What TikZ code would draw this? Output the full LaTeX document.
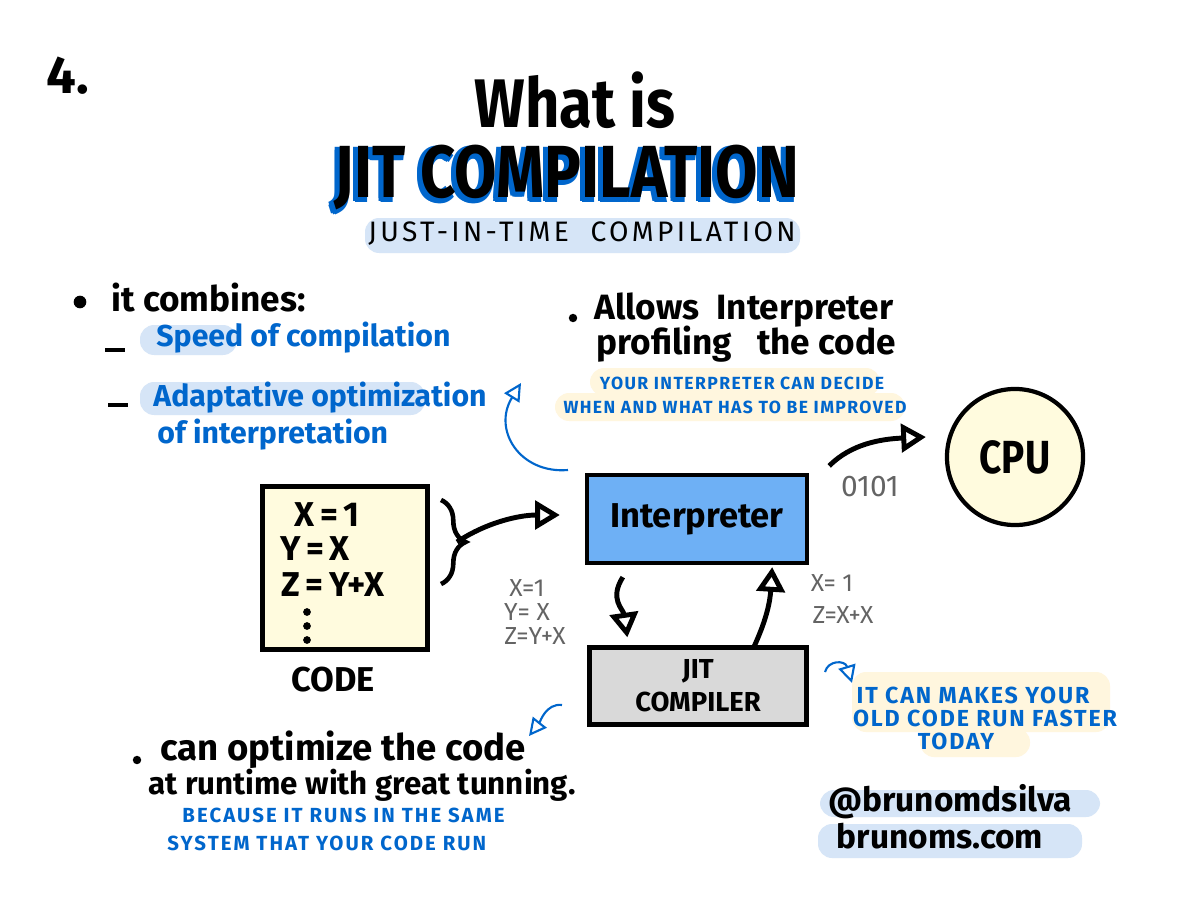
\documentclass[tikz,border=0pt]{standalone}
\usepackage{fontspec}
\usepackage{graphicx}
\setmainfont{Fira Sans}
\usetikzlibrary{arrows.meta,decorations.pathreplacing,calc,positioning}
\definecolor{jitblue}{RGB}{0,102,204}
\definecolor{interpblue}{RGB}{110,176,245}
\definecolor{codeyellow}{RGB}{255,251,222}
\definecolor{hlblue}{RGB}{214,229,247}
\definecolor{hlyellow}{RGB}{255,246,222}
\definecolor{jitgray}{RGB}{217,217,217}
\definecolor{notegray}{RGB}{100,100,100}

\tikzset{
  box/.style={draw=black, line width=1.2pt, inner sep=0pt},
  flow/.style={line width=1.4pt, -{Triangle[open,length=7pt,width=8pt]}},
  hint/.style={jitblue, line width=0.6pt, -{Triangle[open,length=5pt,width=5pt]}},
  hand/.style={font=\fontsize{10}{12}\selectfont\bfseries},
  bluehand/.style={text=jitblue, font=\fontsize{8.6}{10}\selectfont\bfseries},
  capsnote/.style={text=jitblue, font=\fontsize{5}{6}\selectfont\bfseries\addfontfeature{LetterSpace=8}},
  graynote/.style={text=notegray, font=\fontsize{7}{8}\selectfont},
  boxtext/.style={font=\fontsize{9.8}{11}\selectfont\bfseries},
  titletext/.style={font=\fontsize{17.5}{20}\selectfont\bfseries, inner sep=0pt},
  highlight/.style={rounded corners=4pt}
}

\begin{document}
\begin{tikzpicture}[x=0.01cm,y=-0.01cm]
    \useasboundingbox (0,0) rectangle (1200,900);
    \fill[white] (0,0) rectangle (1200,900);

    % Heading
    \node[font=\fontsize{15}{18}\selectfont\bfseries] (pagenum) at (68,76) {4.};
    \node[font=\fontsize{17}{20}\selectfont\bfseries, inner sep=0pt] (whatis) at (575,100) {\scalebox{1}[1.15]{What is}};
    \foreach \dx/\dy [count=\i] in {-4/3,-3/5,-5/1,-1/5,-2/2,-5/4}
        \node[titletext, text=jitblue] (shadow\i) at (567+\dx,178+\dy) {\scalebox{1}[1.2]{JIT COMPILATION}};
    \node[titletext] (title) at (567,178) {\scalebox{1}[1.2]{JIT COMPILATION}};
    \fill[hlblue, highlight] (365,218) rectangle (800,253);
    \node[font=\fontsize{8}{10}\selectfont\addfontfeature{LetterSpace=12}] (subtitle) at (582,234) {JUST-IN-TIME\ \ COMPILATION};

    % It combines
    \fill (80,302) circle (1.8pt);
    \node[hand, anchor=west] (combines) at (99,298) {it combines:};
    \draw[line width=1.4pt] (105,350) -- (125,350);
    \fill[hlblue, highlight] (140,325) rectangle (237,355);
    \node[bluehand, anchor=west] (speed) at (144,338) {Speed of compilation};
    \draw[line width=1.4pt] (108,405) -- (128,405);
    \fill[hlblue, highlight] (140,382) rectangle (425,415);
    \node[bluehand, anchor=west] (adapt) at (141,398) {Adaptative optimization};
    \node[bluehand, anchor=west] (interpretation) at (145,435) {of interpretation};

    % Profiling
    \fill (573,318) circle (1.2pt);
    \node[hand, anchor=west] (allows) at (582,310) {Allows \ Interpreter};
    \node[hand, anchor=west] (profiling) at (584,344) {profiling \ \ the code};
    \fill[hlyellow, highlight] (590,368) rectangle (880,396);
    \fill[hlyellow, highlight] (555,393) rectangle (905,421);
    \node[capsnote] (decide) at (742,383) {YOUR INTERPRETER CAN DECIDE};
    \node[capsnote] (improved) at (735,407) {WHEN AND WHAT HAS TO BE IMPROVED};
    \coordinate (h1s) at (568,470);
    \coordinate (h1e) at (521,383);
    \draw[hint] (h1s) .. controls (520,474) and (492,430) .. (h1e);

    % Code
    \node[box, fill=codeyellow, minimum width=1.65cm, minimum height=1.63cm] (code) at (345,568) {};
    \node[boxtext] (xline) at (327,515) {X\,=\,1};
    \node[boxtext] (yline) at (315,549) {Y\,=\,X};
    \node[boxtext] (zline) at (333,585) {Z\,=\,Y+X};
    \foreach \y in {612,626,640}
        \fill (307,\y) circle (1.1pt);
    \node[boxtext] (codelabel) at (333,680) {CODE};
    \coordinate (br1) at (441,500);
    \coordinate (br2) at (441,584);
    \draw[decorate, decoration={brace, amplitude=7pt}, line width=1.3pt] (br1) -- (br2);
    \coordinate (brtip) at (457,542);

    % Interpreter and JIT
    \node[box, fill=interpblue, minimum width=2.2cm, minimum height=0.88cm, boxtext] (interp) at (697,519) {Interpreter};
    \node[box, fill=jitgray, minimum width=2.17cm, minimum height=0.77cm, align=center,
          font=\fontsize{7.8}{9.5}\selectfont\bfseries] (jit) at (698,686) {JIT\\COMPILER};
    \draw[flow] (brtip) .. controls +(30,-20) and +(-40,0) .. ($(interp.west)+(-25,-4)$);
    \draw[flow] ($(interp.south west)+(38,12)$) .. controls +(-14,22) and +(-4,-28) .. ($(jit.north west)+(40,-8)$);
    \draw[flow] ($(jit.north east)+(-55,2)$) .. controls +(14,-30) and +(-2,32) .. ($(interp.south east)+(-37,2)$);
    \node[graynote] (gx) at (527,588) {X=1};
    \node[graynote] (gy) at (527,612) {Y= X};
    \node[graynote] (gz) at (535,636) {Z=Y+X};
    \node[graynote] (rx) at (832,583) {X= 1};
    \node[graynote] (rz) at (843,615) {Z=X+X};

    % CPU
    \node[circle, draw, line width=1.2pt, fill=codeyellow, minimum size=1.36cm,
          font=\fontsize{11}{13}\selectfont\bfseries] (cpu) at (1015,457) {\scalebox{1}[1.2]{CPU}};
    \draw[flow] ($(interp.north east)+(20,-7)$) .. controls +(22,-22) and +(-45,2) .. ($(cpu.west)+(-19,-20)$);
    \node[graynote, font=\fontsize{8.5}{10}\selectfont] (bits) at (870,487) {0101};

    % Old code
    \coordinate (h2s) at (825,672);
    \coordinate (h2e) at (852,683);
    \draw[hint] (h2s) .. controls (828,660) and (845,660) .. (h2e);
    \fill[hlyellow, highlight] (852,672) rectangle (1110,732);
    \fill[hlyellow, highlight] (920,728) rectangle (1030,757);
    \node[capsnote, font=\fontsize{6.6}{8}\selectfont\bfseries\addfontfeature{LetterSpace=8}] (faster1) at (973,695) {IT CAN MAKES YOUR};
    \node[capsnote, font=\fontsize{6.6}{8}\selectfont\bfseries\addfontfeature{LetterSpace=8}] (faster2) at (985,718) {OLD CODE RUN FASTER};
    \node[capsnote, font=\fontsize{6.6}{8}\selectfont\bfseries\addfontfeature{LetterSpace=8}] (faster3) at (956,741) {TODAY};

    % Runtime
    \coordinate (h3s) at (562,705);
    \coordinate (h3e) at (529,736);
    \draw[hint] (h3s) .. controls (546,703) and (540,722) .. (h3e);
    \fill (137,760) circle (1.2pt);
    \node[hand, font=\fontsize{10.4}{12}\selectfont\bfseries, anchor=west] (optimize) at (148,750) {can optimize the code};
    \node[hand, font=\fontsize{8.9}{11}\selectfont\bfseries, anchor=west] (runtime) at (136,785) {at runtime with great tunning.};
    \node[capsnote, font=\fontsize{5.8}{7}\selectfont\bfseries\addfontfeature{LetterSpace=10}, anchor=west] (because) at (170,815) {BECAUSE IT RUNS IN THE SAME};
    \node[capsnote, font=\fontsize{5.8}{7}\selectfont\bfseries\addfontfeature{LetterSpace=10}, anchor=west] (system) at (155,843) {SYSTEM THAT YOUR CODE RUN};

    % Author
    \fill[hlblue, highlight] (820,790) rectangle (1100,817);
    \fill[hlblue, highlight] (818,824) rectangle (1082,858);
    \node[hand, font=\fontsize{9.5}{11}\selectfont\bfseries] (handle) at (950,802) {@brunomdsilva};
    \node[hand, font=\fontsize{9.5}{11}\selectfont\bfseries] (site) at (940,836) {brunoms.com};
\end{tikzpicture}
\end{document}
